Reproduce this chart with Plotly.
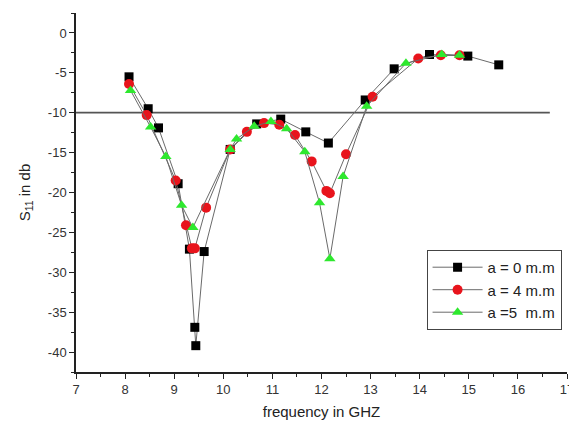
import plotly.graph_objects as go

freq_a0 = [8.08, 8.47, 8.68, 9.08, 9.31, 9.42, 9.44, 9.61, 10.14, 10.68, 11.17, 11.68, 12.14, 12.89, 13.48, 14.2, 14.98, 15.61]
s11_a0 = [-5.5, -9.5, -11.9, -18.9, -27.1, -36.9, -39.2, -27.4, -14.6, -11.4, -10.8, -12.4, -13.8, -8.4, -4.5, -2.7, -2.9, -4.0]

freq_a4 = [8.08, 8.44, 9.03, 9.24, 9.36, 9.42, 9.65, 10.14, 10.48, 10.83, 11.14, 11.46, 11.8, 12.1, 12.17, 12.5, 13.04, 13.97, 14.43, 14.81]
s11_a4 = [-6.4, -10.3, -18.5, -24.1, -27.0, -27.0, -21.9, -14.6, -12.4, -11.3, -11.5, -12.8, -16.1, -19.8, -20.1, -15.2, -8.0, -3.2, -2.8, -2.8]

freq_a5 = [8.11, 8.52, 8.83, 9.15, 9.38, 10.14, 10.27, 10.63, 10.97, 11.29, 11.66, 11.96, 12.17, 12.44, 12.92, 13.72, 14.45, 14.81]
s11_a5 = [-7.2, -11.8, -15.5, -21.6, -24.4, -14.6, -13.3, -11.7, -11.1, -12.0, -14.9, -21.3, -28.3, -18.0, -9.2, -3.8, -2.7, -2.8]

labels = ["a = 0 m.m", "a = 4 m.m", "a =5  m.m"]
x_ticks = [7, 8, 9, 10, 11, 12, 13, 14, 15, 16, 17]
y_ticks = [0, -5, -10, -15, -20, -25, -30, -35, -40]
y_tick_text = ["0", "-5", "-10", "-15", "-20", "-25", "-30", "-35", "-40"]
threshold = -10
threshold_span = [7, 16.65]

FONT = "Liberation Sans, Arial, sans-serif"
line_col = "#6a6a6a"

fig = go.Figure()
fig.add_trace(go.Scatter(x=threshold_span, y=[threshold, threshold], mode="lines",
                         line=dict(color="#555555", width=1.8), showlegend=False, hoverinfo="skip"))
fig.add_trace(go.Scatter(x=freq_a0, y=s11_a0, mode="lines+markers", name=labels[0],
                         line=dict(color=line_col, width=1),
                         marker=dict(symbol="square", size=9, color="#000000")))
fig.add_trace(go.Scatter(x=freq_a4, y=s11_a4, mode="lines+markers", name=labels[1],
                         line=dict(color=line_col, width=1),
                         marker=dict(symbol="circle", size=10, color="#e8141c")))
fig.add_trace(go.Scatter(x=freq_a5, y=s11_a5, mode="lines+markers", name=labels[2],
                         line=dict(color=line_col, width=1),
                         marker=dict(symbol="triangle-up", size=10, color="#2ee82e")))

axis_common = dict(showgrid=False, zeroline=False, showline=True, linecolor="#222222", linewidth=1.5,
                   ticks="outside", ticklen=5, tickcolor="#222222", tickwidth=1.2, automargin=False,
                   ticklabeloverflow="allow",
                   tickfont=dict(family=FONT, size=13, color="#333333"))

fig.update_xaxes(range=[7, 17], tickmode="array", tickvals=x_ticks,
                 minor=dict(ticks="outside", ticklen=3, dtick=0.5, tick0=7, tickcolor="#222222"),
                 title=dict(text="frequency in GHZ", font=dict(family=FONT, size=15, color="#222222"), standoff=10),
                 **axis_common)
fig.update_yaxes(range=[-42.5, 2.5], tickmode="array", tickvals=y_ticks, ticktext=y_tick_text,
                 minor=dict(ticks="outside", ticklen=3, dtick=2.5, tick0=0, tickcolor="#222222"),
                 title=dict(text="S<sub>11</sub> in db", font=dict(family=FONT, size=15, color="#222222"), standoff=14),
                 **axis_common)

fig.update_layout(
    width=569, height=423,
    margin=dict(l=76, r=2, t=13, b=51, autoexpand=False),
    plot_bgcolor="white", paper_bgcolor="white",
    legend=dict(x=0.714, y=0.34, xanchor="left", yanchor="top", itemwidth=50,
                bordercolor="#444444", borderwidth=1, bgcolor="white",
                font=dict(family=FONT, size=15, color="#222222"), tracegroupgap=0),
)

fig.write_html("out.html")
